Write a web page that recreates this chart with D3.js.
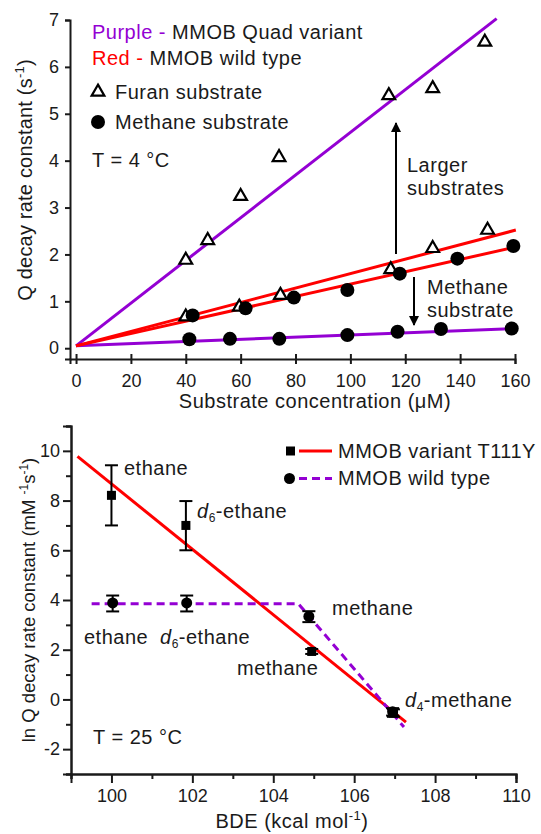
<!DOCTYPE html>
<html>
<head>
<meta charset="utf-8">
<script src="https://cdn.jsdelivr.net/npm/d3@7"></script>
<style>
  body { margin: 0; background: #fff; }
  svg { display: block; }
</style>
</head>
<body>
<div id="chart"></div>
<script>
// ---- top panel data: Q decay rate vs substrate concentration ----
const quadFuranConc = [40, 48, 60, 74, 114, 130, 149];
const quadFuranRate = [1.88, 2.30, 3.24, 4.07, 5.39, 5.54, 6.53];
const wtFuranConc = [40, 59.5, 74.5, 114.7, 130, 150];
const wtFuranRate = [0.67, 0.88, 1.13, 1.68, 2.13, 2.52];
const wtMethaneConc = [42.5, 61.8, 79.4, 98.9, 118, 139, 159.4];
const wtMethaneRate = [0.70, 0.85, 1.08, 1.24, 1.59, 1.91, 2.18];
const quadMethaneConc = [41.3, 56.1, 74.1, 98.9, 117.2, 133, 158.8];
const quadMethaneRate = [0.19, 0.20, 0.20, 0.28, 0.35, 0.41, 0.42];

// linear fits, [start, end] as [conc, rate]
const quadFuranFit = [[0, 0.05], [153.3, 7.03]];
const wtFuranFit = [[0, 0.05], [160.3, 2.52]];
const wtMethaneFit = [[0, 0.05], [160.3, 2.16]];
const quadMethaneFit = [[0, 0.05], [160, 0.42]];

const topXTicks = [0, 20, 40, 60, 80, 100, 120, 140, 160];
const topYTicks = [0, 1, 2, 3, 4, 5, 6, 7];

// ---- bottom panel data: ln rate vs BDE ----
const variantBde = [100.0, 101.84, 104.95, 106.97];
const variantLnK = [8.21, 7.0, 1.93, -0.55];
const variantErrLo = [7.0, 6.0, 1.83, -0.7];
const variantErrHi = [9.42, 7.98, 2.03, -0.4];
const wtBde = [100.03, 101.86, 104.88, 106.95];
const wtLnK = [3.88, 3.88, 3.34, -0.5];
const wtErrLo = [3.54, 3.54, 3.11, -0.65];
const wtErrHi = [4.18, 4.18, 3.55, -0.35];

const variantFit = [[99.16, 9.78], [107.28, -0.91]];
const wtFit = [[99.51, 3.85], [104.62, 3.85], [107.23, -1.11]];

const botXTicks = [100, 102, 104, 106, 108, 110];
const botXMinor = [99, 101, 103, 105, 107, 109];
const botYTicks = [-2, 0, 2, 4, 6, 8, 10];
const botYMinor = [-3, -1, 1, 3, 5, 7, 9, 11];

const width = 541, height = 834;
const font = "'Liberation Sans', Arial, sans-serif";
const ink = "#1a1a1a";
const purple = "#9400d3";
const red = "#ff0000";

const svg = d3.select("#chart").append("svg")
  .attr("width", width)
  .attr("height", height)
  .style("font-family", font)
  .style("font-size", "20px")
  .style("letter-spacing", "0.5px");

svg.append("rect").attr("width", width).attr("height", height).attr("fill", "#fff");

// ---------------------------
// TOP PANEL
// ---------------------------
const x1 = d3.scaleLinear().domain([-2.2, 160]).range([70, 515]);
const y1 = d3.scaleLinear().domain([-0.23, 7]).range([359, 20]);

const topG = svg.append("g");

const xAxis1 = topG.append("g")
  .attr("transform", `translate(0,${y1.range()[0]})`)
  .call(d3.axisBottom(x1).tickValues(topXTicks).tickSizeOuter(0).tickSize(5));
xAxis1.selectAll(".tick line").attr("y1", -5);
xAxis1.selectAll(".tick text").attr("y", 15);

const yAxis1 = topG.append("g")
  .attr("transform", `translate(${x1.range()[0]},0)`)
  .call(d3.axisLeft(y1).tickValues(topYTicks).tickSizeOuter(0).tickSize(5).tickPadding(6));

[xAxis1, yAxis1].forEach(a => {
  a.select(".domain").attr("stroke", ink).attr("stroke-width", 2);
  a.selectAll(".tick line").attr("stroke", ink).attr("stroke-width", 2);
  a.selectAll(".tick text").attr("fill", ink)
    .style("font-size", "18px").style("font-family", font).style("letter-spacing", "0px");
});

// axis titles
topG.append("text")
  .attr("x", 315).attr("y", 408)
  .attr("text-anchor", "middle")
  .attr("fill", ink)
  .text("Substrate concentration (μM)");

const yt1 = topG.append("text")
  .attr("transform", "translate(32,180) rotate(-90)")
  .attr("text-anchor", "middle")
  .style("letter-spacing", "0.2px")
  .attr("fill", ink);
yt1.append("tspan").text("Q decay rate constant (s");
yt1.append("tspan").attr("dy", -8).style("font-size", "13px").text("-1");
yt1.append("tspan").attr("dy", 8).text(")");

// fit lines
const line1 = d3.line().x(d => x1(d[0])).y(d => y1(d[1]));
[[quadFuranFit, purple], [quadMethaneFit, purple], [wtFuranFit, red], [wtMethaneFit, red]]
  .forEach(([fit, col]) => {
    topG.append("path")
      .datum(fit)
      .attr("d", line1)
      .attr("fill", "none")
      .attr("stroke", col)
      .attr("stroke-width", 3);
  });

const tri = d3.symbol().type(d3.symbolTriangle).size(70);

function triangles(xs, ys) {
  topG.append("g").selectAll("path")
    .data(xs.map((x, i) => [x, ys[i]]))
    .enter().append("path")
    .attr("d", tri)
    .attr("transform", d => `translate(${x1(d[0])},${y1(d[1])})`)
    .attr("fill", "#fff")
    .attr("stroke", "#000")
    .attr("stroke-width", 2.2);
}
function dots(xs, ys) {
  topG.append("g").selectAll("circle")
    .data(xs.map((x, i) => [x, ys[i]]))
    .enter().append("circle")
    .attr("cx", d => x1(d[0]))
    .attr("cy", d => y1(d[1]))
    .attr("r", 7)
    .attr("fill", "#000");
}
triangles(quadFuranConc, quadFuranRate);
triangles(wtFuranConc, wtFuranRate);
dots(wtMethaneConc, wtMethaneRate);
dots(quadMethaneConc, quadMethaneRate);

// legend / notes
const l1 = topG.append("text").attr("x", 92).attr("y", 39);
l1.append("tspan").attr("fill", purple).text("Purple - ");
l1.append("tspan").attr("fill", ink).text("MMOB Quad variant");
const l2 = topG.append("text").attr("x", 92).attr("y", 65);
l2.append("tspan").attr("fill", red).text("Red - ");
l2.append("tspan").attr("fill", ink).text("MMOB wild type");

topG.append("path").attr("d", tri)
  .attr("transform", "translate(98,92)")
  .attr("fill", "#fff").attr("stroke", "#000").attr("stroke-width", 2.2);
topG.append("text").attr("x", 115).attr("y", 99).attr("fill", ink).text("Furan substrate");
topG.append("circle").attr("cx", 98).attr("cy", 122).attr("r", 7).attr("fill", "#000");
topG.append("text").attr("x", 115).attr("y", 129).attr("fill", ink).text("Methane substrate");
topG.append("text").attr("x", 92).attr("y", 167).attr("fill", ink).text("T = 4 °C");

// arrows
const defs = svg.append("defs");
defs.append("marker")
  .attr("id", "arrow")
  .attr("viewBox", "0 0 10 10")
  .attr("refX", 9).attr("refY", 5)
  .attr("markerWidth", 6).attr("markerHeight", 5)
  .attr("markerUnits", "strokeWidth")
  .attr("orient", "auto")
  .append("path").attr("d", "M0,0L10,5L0,10Z").attr("fill", "#000");

topG.append("line")
  .attr("x1", 396).attr("y1", 254).attr("x2", 396).attr("y2", 123)
  .attr("stroke", "#000").attr("stroke-width", 2).attr("marker-end", "url(#arrow)");
topG.append("text").attr("x", 407).attr("y", 172).attr("fill", ink).text("Larger");
topG.append("text").attr("x", 407).attr("y", 195).attr("fill", ink).text("substrates");

topG.append("line")
  .attr("x1", 414).attr("y1", 277).attr("x2", 414).attr("y2", 325)
  .attr("stroke", "#000").attr("stroke-width", 2).attr("marker-end", "url(#arrow)");
topG.append("text").attr("x", 427).attr("y", 294).attr("fill", ink).text("Methane");
topG.append("text").attr("x", 427).attr("y", 317).attr("fill", ink).text("substrate");

// ---------------------------
// BOTTOM PANEL
// ---------------------------
const x2 = d3.scaleLinear().domain([99, 110]).range([71, 516]);
const y2 = d3.scaleLinear().domain([-3, 11]).range([774, 426]);

const botG = svg.append("g");

const xAxis2 = botG.append("g")
  .attr("transform", `translate(0,${y2.range()[0]})`)
  .call(d3.axisBottom(x2).tickValues(botXTicks).tickSizeOuter(0).tickSize(9));
xAxis2.selectAll(".tick text").attr("y", 15);
const xMinor2 = botG.append("g")
  .attr("transform", `translate(0,${y2.range()[0]})`)
  .call(d3.axisBottom(x2).tickValues(botXMinor).tickSizeOuter(0).tickSize(5).tickFormat(""));

const yAxis2 = botG.append("g")
  .attr("transform", `translate(${x2.range()[0]},0)`)
  .call(d3.axisLeft(y2).tickValues(botYTicks).tickSizeOuter(0).tickSize(8).tickPadding(3)
    .tickFormat(d3.format("d")));
const yMinor2 = botG.append("g")
  .attr("transform", `translate(${x2.range()[0]},0)`)
  .call(d3.axisLeft(y2).tickValues(botYMinor).tickSizeOuter(0).tickSize(5).tickFormat(""));

[xAxis2, xMinor2, yAxis2, yMinor2].forEach(a => {
  a.select(".domain").attr("stroke", ink).attr("stroke-width", 2);
  a.selectAll(".tick line").attr("stroke", ink).attr("stroke-width", 2);
  a.selectAll(".tick text").attr("fill", ink)
    .style("font-size", "18px").style("font-family", font).style("letter-spacing", "0px");
});
yAxis2.selectAll(".tick text").text(d => d < 0 ? "-" + Math.abs(d) : d);

const xt2 = botG.append("text")
  .attr("x", 292).attr("y", 828)
  .attr("text-anchor", "middle")
  .attr("fill", ink);
xt2.append("tspan").text("BDE (kcal mol");
xt2.append("tspan").attr("dy", -8).style("font-size", "13px").text("-1");
xt2.append("tspan").attr("dy", 8).text(")");

const yt2 = botG.append("text")
  .attr("transform", "translate(35,600) rotate(-90)")
  .attr("text-anchor", "middle")
  .style("font-size", "18.5px")
  .style("letter-spacing", "0px")
  .attr("fill", ink);
yt2.append("tspan").text("ln Q decay rate constant (mM ");
yt2.append("tspan").attr("dy", -7).style("font-size", "12px").text("-1");
yt2.append("tspan").attr("dy", 7).text("s");
yt2.append("tspan").attr("dy", -7).style("font-size", "12px").text("-1");
yt2.append("tspan").attr("dy", 7).text(")");

const line2 = d3.line().x(d => x2(d[0])).y(d => y2(d[1]));
botG.append("path").datum(variantFit).attr("d", line2)
  .attr("fill", "none").attr("stroke", red).attr("stroke-width", 3);
botG.append("path").datum(wtFit).attr("d", line2)
  .attr("fill", "none").attr("stroke", purple).attr("stroke-width", 3)
  .attr("stroke-dasharray", "8,5");

// error bars
function errorBars(xs, lo, hi) {
  const g = botG.append("g").attr("stroke", "#000").attr("stroke-width", 2);
  xs.forEach((x, i) => {
    const cx = x2(x);
    g.append("line").attr("x1", cx).attr("x2", cx).attr("y1", y2(lo[i])).attr("y2", y2(hi[i]));
    g.append("line").attr("x1", cx - 6.5).attr("x2", cx + 6.5).attr("y1", y2(lo[i])).attr("y2", y2(lo[i]));
    g.append("line").attr("x1", cx - 6.5).attr("x2", cx + 6.5).attr("y1", y2(hi[i])).attr("y2", y2(hi[i]));
  });
}
errorBars(variantBde, variantErrLo, variantErrHi);
errorBars(wtBde, wtErrLo, wtErrHi);

botG.append("g").selectAll("rect")
  .data(variantBde.map((x, i) => [x, variantLnK[i]]))
  .enter().append("rect")
  .attr("x", d => x2(d[0]) - 4.5)
  .attr("y", d => y2(d[1]) - 4.5)
  .attr("width", 9).attr("height", 9)
  .attr("fill", "#000");

botG.append("g").selectAll("circle")
  .data(wtBde.map((x, i) => [x, wtLnK[i]]))
  .enter().append("circle")
  .attr("cx", d => x2(d[0]))
  .attr("cy", d => y2(d[1]))
  .attr("r", 5.5)
  .attr("fill", "#000");

// legend
botG.append("rect").attr("x", 286).attr("y", 446.5).attr("width", 9).attr("height", 9).attr("fill", "#000");
botG.append("line").attr("x1", 299).attr("x2", 332).attr("y1", 451).attr("y2", 451)
  .attr("stroke", red).attr("stroke-width", 3);
botG.append("text").attr("x", 338).attr("y", 458).attr("fill", ink).text("MMOB variant T111Y");
botG.append("circle").attr("cx", 289.5).attr("cy", 478.5).attr("r", 5.5).attr("fill", "#000");
botG.append("line").attr("x1", 299).attr("x2", 332).attr("y1", 478.5).attr("y2", 478.5)
  .attr("stroke", purple).attr("stroke-width", 3).attr("stroke-dasharray", "8,5");
botG.append("text").attr("x", 338).attr("y", 485).attr("fill", ink).text("MMOB wild type");

// point labels
function label(x, y, pre, sub, rest) {
  const t = botG.append("text").attr("x", x).attr("y", y).attr("fill", ink);
  if (pre) {
    t.append("tspan").style("font-style", "italic").text(pre);
    t.append("tspan").attr("dy", 4).style("font-size", "12px").text(sub);
    t.append("tspan").attr("dy", -4).text(rest);
  } else {
    t.text(rest);
  }
}
label(124, 475, null, null, "ethane");
label(197, 518, "d", "6", "-ethane");
label(84, 644, null, null, "ethane");
label(160, 644, "d", "6", "-ethane");
label(332, 615, null, null, "methane");
label(237, 675, null, null, "methane");
label(405, 707, "d", "4", "-methane");

botG.append("text").attr("x", 93).attr("y", 744).attr("fill", ink).text("T = 25 °C");
</script>
</body>
</html>
